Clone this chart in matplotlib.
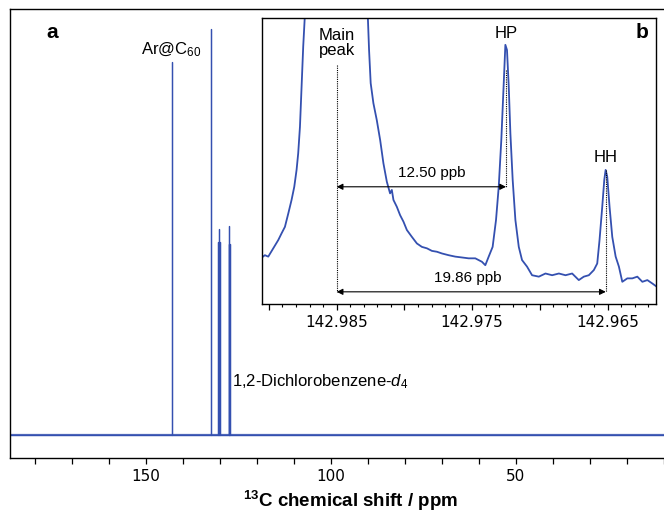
import numpy as np
import matplotlib
matplotlib.use("Agg")
import matplotlib.pyplot as plt
from matplotlib.ticker import FixedLocator, MultipleLocator, FuncFormatter

plt.rcParams["font.family"] = ["Liberation Sans", "DejaVu Sans"]
plt.rcParams["mathtext.fontset"] = "custom"
plt.rcParams["mathtext.rm"] = "Liberation Sans"
plt.rcParams["mathtext.it"] = "Liberation Sans:italic"
plt.rcParams["mathtext.bf"] = "Liberation Sans:bold"

LINE_COLOR = "#3450b0"

# =========================
# Panel a: full 13C spectrum (peak list, arbitrary units)
# =========================
xlim_full = (186.5, 10.0)
peak_ppm = [142.985, 132.45, 130.35, 130.2, 130.05, 127.55, 127.4, 127.25]
peak_height = [100.0, 108.8, 51.7, 55.2, 51.7, 51.2, 56.0, 51.2]

# =========================
# Panel b: zoom on the Ar@C60 line (trace)
# =========================
inset_ppm = [
    142.99060, 142.99030, 142.99005, 142.98968, 142.98931, 142.98907, 142.98882,
    142.98857, 142.98833, 142.98813, 142.98796, 142.98784, 142.98771, 142.98759,
    142.98747, 142.98734, 142.98500, 142.98271, 142.98261, 142.98249, 142.98229,
    142.98204, 142.98179, 142.98155, 142.98130, 142.98106, 142.98093, 142.98081,
    142.98056, 142.98032, 142.98007, 142.97982, 142.97945, 142.97908, 142.97871,
    142.97834, 142.97797, 142.97760, 142.97723, 142.97674, 142.97625, 142.97575,
    142.97526, 142.97477, 142.97428, 142.97403, 142.97378, 142.97349, 142.97324,
    142.97304, 142.97285, 142.97267, 142.97255, 142.97243, 142.97230, 142.97218,
    142.97201, 142.97181, 142.97156, 142.97132, 142.97095, 142.97058, 142.97008,
    142.96959, 142.96910, 142.96860, 142.96811, 142.96762, 142.96713, 142.96676,
    142.96639, 142.96602, 142.96577, 142.96560, 142.96540, 142.96525, 142.96515,
    142.96503, 142.96486, 142.96466, 142.96441, 142.96417, 142.96392, 142.96355,
    142.96318, 142.96281, 142.96244, 142.96207, 142.96170, 142.96138,
]
inset_int = [
    16.0, 17.1, 16.6, 19.5, 22.4, 24.7, 27.0,
    31.7, 36.4, 41.0, 46.9, 52.7, 62.0, 76.0,
    90.0, 101.6, 2000.0, 101.6, 88.8, 77.2, 70.2,
    64.3, 57.3, 49.2, 42.8, 38.7, 39.9, 36.4,
    34.0, 31.1, 28.8, 25.9, 23.5, 21.2, 20.0,
    19.5, 18.6, 18.3, 17.7, 17.1, 16.6, 16.3,
    16.0, 16.0, 14.8, 13.6, 16.6, 20.0, 29.4,
    41.0, 57.3, 77.2, 90.6, 88.8, 76.0, 59.7,
    43.4, 29.4, 20.0, 15.4, 13.1, 10.1, 9.6,
    10.7, 10.1, 10.7, 10.1, 10.7, 8.4, 9.6,
    10.1, 11.9, 14.2, 22.4, 34.0, 43.4, 46.9,
    44.5, 34.0, 23.5, 16.6, 13.1, 7.8, 9.0,
    9.0, 9.6, 7.8, 8.4, 7.2, 6.1,
]
xlim_inset = (142.99054, 142.96143)

main_pos = 142.985
hp_pos = 142.9725
hh_pos = 142.96514

# build the stick spectrum from the peak list
spec_x = [xlim_full[0]]
spec_y = [0.0]
for p, h in sorted(zip(peak_ppm, peak_height), reverse=True):
    spec_x += [p, p, p]
    spec_y += [0.0, h, 0.0]
spec_x.append(xlim_full[1])
spec_y.append(0.0)

fig = plt.figure(figsize=(6.64, 5.12), dpi=100)

ax = fig.add_axes([0.0158, 0.106, 0.9842, 0.876])
ax.axhline(0, color=LINE_COLOR, lw=1.6, alpha=0.85)
ax.plot(spec_x, spec_y, color=LINE_COLOR, lw=0.9)
ax.set_xlim(*xlim_full)
ax.set_ylim(-6.1, 114.1)
ax.set_yticks([])
ax.spines["right"].set_visible(False)
for s in ["left", "top", "bottom"]:
    ax.spines[s].set_linewidth(1.0)
ax.xaxis.set_major_locator(MultipleLocator(50))
ax.xaxis.set_minor_locator(MultipleLocator(10))
ax.tick_params(axis="x", which="both", direction="out", length=4, width=0.9,
               labelsize=11, pad=4)
for lab in ax.get_xticklabels():
    lab.set_fontfamily("DejaVu Sans")
ax.set_xlabel(r"$^{\mathbf{13}}$C chemical shift / ppm", fontsize=13.5,
              fontweight="bold")
ax.xaxis.set_label_coords(0.52, -0.07)

ax.text(0.0635, 0.947, "a", transform=ax.transAxes, fontsize=15,
        fontweight="bold", ha="center", va="center")
ax.text(134.9, 101.9, r"Ar@C$_{60}$", fontsize=12, ha="right", va="baseline")
ax.text(126.8, 13.0, r"1,2-Dichlorobenzene-$d_4$", fontsize=12,
        ha="left", va="baseline")

# =========================
# Inset
# =========================
axi = fig.add_axes([0.394, 0.406, 0.594, 0.559])
axi.plot(inset_ppm, inset_int, color=LINE_COLOR, lw=1.3)
axi.set_xlim(*xlim_inset)
axi.set_ylim(0, 100)
axi.set_yticks([])
for s in axi.spines.values():
    s.set_linewidth(1.0)

major_ticks = [142.990, 142.985, 142.980, 142.975, 142.970, 142.965]
labelled = [142.985, 142.975, 142.965]
axi.xaxis.set_major_locator(FixedLocator(major_ticks))
axi.xaxis.set_minor_locator(MultipleLocator(0.001))
axi.xaxis.set_major_formatter(FuncFormatter(
    lambda v, pos: f"{v:.3f}" if any(abs(v - t) < 1e-6 for t in labelled) else ""))
axi.tick_params(axis="x", which="major", direction="out", length=4, width=0.9,
                labelsize=11, pad=4)
axi.tick_params(axis="x", which="minor", direction="out", length=2, width=0.8)
for lab in axi.get_xticklabels():
    lab.set_fontfamily("DejaVu Sans")

dot = dict(color="black", ls=(0, (1, 1)), lw=0.8)
axi.plot([main_pos, main_pos], [83.6, 4.3], **dot)
axi.plot([hp_pos, hp_pos], [81.8, 41.0], **dot)
axi.plot([hh_pos, hh_pos], [46.9, 4.3], **dot)

arrow = dict(arrowstyle="<|-|>", color="black", lw=0.8, shrinkA=0, shrinkB=0,
             mutation_scale=9)
axi.annotate("", xy=(hp_pos, 41.0), xytext=(main_pos, 41.0), arrowprops=arrow)
axi.annotate("", xy=(hh_pos, 4.3), xytext=(main_pos, 4.3), arrowprops=arrow)

axi.text(main_pos, 91.3, "Main\npeak", fontsize=12, ha="center", va="center",
         linespacing=1.05)
axi.text(hp_pos, 94.4, "HP", fontsize=12, ha="center", va="center")
axi.text(hh_pos, 51.4, "HH", fontsize=12, ha="center", va="center")
axi.text(142.97797, 45.8, "12.50 ppb", fontsize=11, ha="center", va="center")
axi.text(142.97529, 9.2, "19.86 ppb", fontsize=11, ha="center", va="center")
axi.text(0.964, 0.948, "b", transform=axi.transAxes, fontsize=15,
         fontweight="bold", ha="center", va="center")

fig.savefig("out.png", dpi=100)
